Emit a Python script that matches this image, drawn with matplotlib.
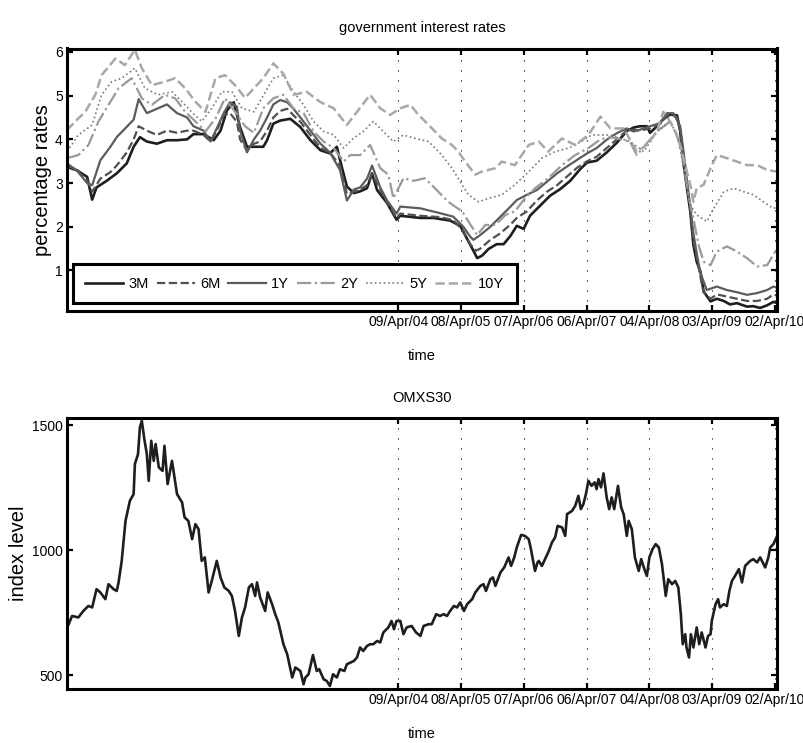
import datetime as dt
import matplotlib
matplotlib.use("Agg")
import matplotlib.pyplot as plt
import matplotlib.dates as mdates

plt.rcParams['font.family'] = ['Liberation Sans', 'DejaVu Sans']

# ---- data (decimal years) ----
r3m_t = [1999.00, 1999.16, 1999.32, 1999.40, 1999.47, 1999.63, 1999.79, 1999.95, 2000.06, 2000.16,
         2000.27, 2000.43, 2000.59, 2000.75, 2000.91, 2001.01, 2001.17, 2001.33, 2001.44, 2001.54,
         2001.65, 2001.75, 2001.86, 2001.97, 2002.12, 2002.18, 2002.28, 2002.39, 2002.55, 2002.71,
         2002.87, 2003.03, 2003.18, 2003.29, 2003.34, 2003.45, 2003.56, 2003.66, 2003.77, 2003.85,
         2003.93, 2004.09, 2004.24, 2004.30, 2004.62, 2004.83, 2005.09, 2005.25, 2005.36, 2005.46,
         2005.52, 2005.60, 2005.70, 2005.83, 2005.94, 2006.05, 2006.15, 2006.26, 2006.36, 2006.52,
         2006.68, 2006.84, 2007.00, 2007.16, 2007.27, 2007.42, 2007.58, 2007.74, 2007.90, 2008.01,
         2008.11, 2008.22, 2008.27, 2008.38, 2008.48, 2008.59, 2008.70, 2008.75, 2008.80, 2008.85,
         2008.91, 2008.96, 2009.01, 2009.07, 2009.12, 2009.23, 2009.33, 2009.44, 2009.54, 2009.65,
         2009.81, 2009.91, 2010.02, 2010.13, 2010.23, 2010.29]
r3m = [3.37, 3.29, 3.14, 2.62, 2.90, 3.05, 3.22, 3.45, 3.83, 4.05,
       3.95, 3.90, 3.98, 3.98, 4.00, 4.12, 4.12, 3.98, 4.20, 4.66,
       4.85, 4.28, 3.83, 3.83, 3.83, 3.98, 4.36, 4.43, 4.47, 4.28,
       3.98, 3.75, 3.68, 3.83, 3.53, 2.92, 2.77, 2.81, 2.88, 3.22,
       2.84, 2.54, 2.16, 2.25, 2.20, 2.20, 2.14, 2.02, 1.72, 1.45,
       1.28, 1.34, 1.49, 1.60, 1.60, 1.79, 2.02, 1.95, 2.25, 2.48,
       2.71, 2.86, 3.05, 3.32, 3.47, 3.51, 3.70, 3.92, 4.19, 4.27,
       4.30, 4.30, 4.15, 4.30, 4.46, 4.57, 4.55, 4.18, 3.49, 2.96,
       2.35, 1.58, 1.20, 0.97, 0.52, 0.29, 0.35, 0.30, 0.22, 0.25,
       0.17, 0.18, 0.14, 0.20, 0.28, 0.25]

r6m_t = [1999.00, 1999.16, 1999.32, 1999.40, 1999.53, 1999.69, 1999.79, 1999.95, 2000.06, 2000.14,
         2000.27, 2000.43, 2000.59, 2000.75, 2000.91, 2001.01, 2001.17, 2001.28, 2001.38, 2001.49,
         2001.59, 2001.70, 2001.75, 2001.86, 2001.97, 2002.07, 2002.18, 2002.28, 2002.39, 2002.50,
         2002.60, 2002.71, 2002.87, 2003.03, 2003.18, 2003.34, 2003.45, 2003.56, 2003.66, 2003.77,
         2003.85, 2003.98, 2004.09, 2004.24, 2004.30, 2004.62, 2004.93, 2005.14, 2005.30, 2005.41,
         2005.50, 2005.57, 2005.73, 2005.89, 2006.05, 2006.15, 2006.31, 2006.47, 2006.63, 2006.79,
         2006.95, 2007.11, 2007.27, 2007.42, 2007.58, 2007.74, 2007.90, 2008.01, 2008.11, 2008.27,
         2008.43, 2008.54, 2008.64, 2008.70, 2008.75, 2008.80, 2008.85, 2008.91, 2008.96, 2009.01,
         2009.07, 2009.12, 2009.23, 2009.33, 2009.49, 2009.65, 2009.81, 2009.97, 2010.13, 2010.23,
         2010.29]
r6m = [3.40, 3.30, 3.05, 2.80, 3.10, 3.25, 3.40, 3.70, 4.00, 4.30,
       4.20, 4.10, 4.20, 4.15, 4.20, 4.20, 4.10, 3.95, 4.20, 4.55,
       4.60, 4.40, 4.00, 3.75, 3.90, 3.95, 4.20, 4.50, 4.65, 4.70,
       4.55, 4.40, 4.10, 3.80, 3.70, 3.40, 2.75, 2.80, 2.85, 2.95,
       3.20, 2.85, 2.55, 2.20, 2.30, 2.25, 2.22, 2.15, 1.90, 1.60,
       1.45, 1.50, 1.70, 1.85, 2.05, 2.20, 2.35, 2.60, 2.80, 2.95,
       3.15, 3.35, 3.50, 3.60, 3.80, 4.00, 4.20, 4.22, 4.20, 4.25,
       4.35, 4.55, 4.55, 4.50, 4.20, 3.60, 3.05, 2.40, 1.70, 1.30,
       0.85, 0.50, 0.35, 0.45, 0.40, 0.35, 0.30, 0.30, 0.35, 0.45,
       0.42]

r1y_t = [1999.00, 1999.16, 1999.32, 1999.40, 1999.53, 1999.69, 1999.79, 2000.06, 2000.14, 2000.27,
         2000.43, 2000.59, 2000.75, 2000.91, 2001.01, 2001.17, 2001.28, 2001.38, 2001.49, 2001.59,
         2001.70, 2001.75, 2001.86, 2001.97, 2002.07, 2002.18, 2002.28, 2002.39, 2002.50, 2002.60,
         2002.71, 2002.87, 2003.03, 2003.18, 2003.34, 2003.45, 2003.56, 2003.66, 2003.77, 2003.85,
         2003.98, 2004.09, 2004.24, 2004.30, 2004.62, 2004.93, 2005.14, 2005.30, 2005.41, 2005.46,
         2005.57, 2005.73, 2005.89, 2006.05, 2006.15, 2006.31, 2006.47, 2006.63, 2006.79, 2006.95,
         2007.11, 2007.27, 2007.42, 2007.58, 2007.74, 2007.90, 2008.01, 2008.11, 2008.27, 2008.43,
         2008.54, 2008.64, 2008.75, 2008.80, 2008.85, 2008.91, 2008.96, 2009.01, 2009.07, 2009.17,
         2009.33, 2009.49, 2009.65, 2009.81, 2009.97, 2010.13, 2010.23, 2010.29]
r1y = [3.45, 3.28, 3.00, 2.95, 3.52, 3.83, 4.05, 4.45, 4.92, 4.60,
       4.70, 4.80, 4.60, 4.50, 4.30, 4.20, 3.95, 4.25, 4.60, 4.85,
       4.75, 4.20, 3.70, 4.00, 4.20, 4.50, 4.80, 4.90, 4.85, 4.70,
       4.50, 4.20, 3.90, 3.70, 3.30, 2.60, 2.85, 2.90, 3.10, 3.40,
       2.90, 2.60, 2.30, 2.46, 2.42, 2.31, 2.23, 2.00, 1.77, 1.70,
       1.81, 2.00, 2.23, 2.46, 2.61, 2.73, 2.84, 3.03, 3.22, 3.38,
       3.53, 3.68, 3.80, 3.99, 4.14, 4.25, 4.18, 4.22, 4.30, 4.37,
       4.60, 4.60, 4.30, 3.76, 3.15, 2.46, 1.85, 1.39, 0.94, 0.55,
       0.63, 0.55, 0.50, 0.44, 0.48, 0.55, 0.63, 0.60]

r2y_t = [1999.00, 1999.18, 1999.34, 1999.50, 1999.66, 1999.82, 2000.03, 2000.19, 2000.35, 2000.56,
         2000.72, 2000.88, 2001.04, 2001.20, 2001.36, 2001.51, 2001.67, 2001.83, 2001.97, 2002.12,
         2002.28, 2002.44, 2002.60, 2002.76, 2002.92, 2003.08, 2003.24, 2003.40, 2003.50, 2003.66,
         2003.82, 2003.98, 2004.11, 2004.19, 2004.35, 2004.51, 2004.69, 2004.85, 2005.06, 2005.28,
         2005.38, 2005.52, 2005.65, 2005.81, 2005.97, 2006.12, 2006.28, 2006.44, 2006.65, 2006.87,
         2007.08, 2007.29, 2007.48, 2007.64, 2007.95, 2008.06, 2008.38, 2008.59, 2008.70, 2008.80,
         2008.88, 2008.96, 2009.04, 2009.12, 2009.23, 2009.33, 2009.49, 2009.65, 2009.81, 2009.97,
         2010.13, 2010.26, 2010.29]
r2y = [3.57, 3.64, 3.87, 4.41, 4.79, 5.17, 5.40, 4.94, 4.79, 5.02,
       4.94, 4.63, 4.41, 4.18, 4.48, 4.94, 4.63, 4.30, 4.15, 4.71,
       4.94, 5.02, 4.71, 4.60, 4.18, 3.95, 3.80, 3.49, 3.64, 3.64,
       3.87, 3.34, 3.19, 2.65, 3.11, 3.05, 3.11, 2.88, 2.57, 2.35,
       2.12, 1.81, 2.04, 2.04, 2.27, 2.35, 2.65, 2.88, 3.11, 3.41,
       3.64, 3.80, 4.00, 4.05, 3.95, 3.64, 4.18, 4.41, 4.10, 3.49,
       2.73, 2.19, 1.58, 1.20, 1.12, 1.43, 1.55, 1.43, 1.28, 1.09,
       1.12, 1.43, 1.40]

r5y_t = [1999.00, 1999.18, 1999.40, 1999.55, 1999.71, 1999.87, 2000.08, 2000.24, 2000.45, 2000.67,
         2000.83, 2000.98, 2001.14, 2001.30, 2001.46, 2001.62, 2001.78, 2001.97, 2002.28, 2002.44,
         2002.60, 2002.76, 2002.92, 2003.08, 2003.24, 2003.40, 2003.55, 2003.71, 2003.87, 2004.03,
         2004.19, 2004.35, 2004.54, 2004.75, 2004.96, 2005.12, 2005.28, 2005.38, 2005.54, 2005.70,
         2005.91, 2006.12, 2006.34, 2006.55, 2006.76, 2006.97, 2007.18, 2007.34, 2007.64, 2007.95,
         2008.17, 2008.38, 2008.59, 2008.72, 2008.83, 2008.91, 2009.01, 2009.17, 2009.28, 2009.44,
         2009.60, 2009.76, 2009.91, 2010.07, 2010.23, 2010.29]
r5y = [3.72, 4.10, 4.33, 5.02, 5.32, 5.40, 5.63, 5.17, 5.02, 5.09,
       4.86, 4.63, 4.41, 4.71, 5.09, 5.09, 4.71, 4.63, 5.40, 5.47,
       5.09, 4.79, 4.41, 4.18, 4.10, 3.80, 4.02, 4.18, 4.41, 4.18,
       3.95, 4.10, 4.02, 3.95, 3.64, 3.34, 2.96, 2.73, 2.57, 2.65,
       2.73, 2.96, 3.26, 3.57, 3.72, 3.80, 3.95, 4.10, 4.10, 3.95,
       3.72, 4.18, 4.41, 4.02, 3.11, 2.50, 2.27, 2.12, 2.42, 2.80,
       2.88, 2.80, 2.73, 2.57, 2.42, 2.45]

r10y_t = [1999.00, 1999.13, 1999.29, 1999.45, 1999.55, 1999.77, 1999.92, 2000.08, 2000.19, 2000.35,
          2000.56, 2000.72, 2000.88, 2001.04, 2001.20, 2001.36, 2001.51, 2001.67, 2001.83, 2002.12,
          2002.28, 2002.44, 2002.60, 2002.81, 2003.02, 2003.24, 2003.45, 2003.61, 2003.82, 2003.98,
          2004.14, 2004.30, 2004.46, 2004.59, 2004.75, 2004.96, 2005.12, 2005.22, 2005.33, 2005.49,
          2005.59, 2005.81, 2005.91, 2006.12, 2006.34, 2006.50, 2006.65, 2006.87, 2007.08, 2007.29,
          2007.48, 2007.64, 2007.85, 2008.06, 2008.22, 2008.38, 2008.48, 2008.59, 2008.67, 2008.75,
          2008.83, 2008.91, 2008.96, 2009.01, 2009.12, 2009.23, 2009.33, 2009.49, 2009.65, 2009.81,
          2009.97, 2010.13, 2010.29]
r10y = [4.21, 4.41, 4.63, 5.02, 5.47, 5.85, 5.70, 6.05, 5.63, 5.24,
        5.32, 5.40, 5.17, 4.86, 4.63, 5.40, 5.47, 5.24, 4.95, 5.40,
        5.74, 5.50, 5.02, 5.09, 4.86, 4.71, 4.33, 4.63, 5.02, 4.71,
        4.56, 4.71, 4.79, 4.56, 4.33, 4.02, 3.87, 3.72, 3.49, 3.19,
        3.26, 3.34, 3.49, 3.41, 3.87, 3.95, 3.72, 4.02, 3.87, 4.10,
        4.52, 4.25, 4.25, 3.72, 3.87, 4.18, 4.63, 4.41, 4.18, 3.87,
        3.41, 2.96, 2.57, 2.88, 2.96, 3.34, 3.64, 3.57, 3.49, 3.41,
        3.41, 3.30, 3.26]

omx_t = [1999.00, 1999.02, 1999.08, 1999.18, 1999.26, 1999.34, 1999.40, 1999.47, 1999.53, 1999.61,
         1999.66, 1999.74, 1999.79, 1999.82, 1999.87, 1999.93, 2000.00, 2000.06, 2000.08, 2000.13,
         2000.16, 2000.19, 2000.23, 2000.27, 2000.30, 2000.34, 2000.38, 2000.41, 2000.46, 2000.52,
         2000.55, 2000.60, 2000.67, 2000.75, 2000.83, 2000.87, 2000.93, 2000.99, 2001.04, 2001.09,
         2001.14, 2001.19, 2001.25, 2001.30, 2001.38, 2001.44, 2001.50, 2001.57, 2001.62, 2001.67,
         2001.73, 2001.78, 2001.83, 2001.89, 2001.94, 2001.99, 2002.02, 2002.07, 2002.15, 2002.19,
         2002.26, 2002.31, 2002.36, 2002.44, 2002.50, 2002.58, 2002.63, 2002.71, 2002.76, 2002.79,
         2002.84, 2002.91, 2002.97, 2003.01, 2003.08, 2003.13, 2003.18, 2003.23, 2003.29, 2003.34,
         2003.41, 2003.45, 2003.56, 2003.61, 2003.66, 2003.71, 2003.77, 2003.82, 2003.87, 2003.93,
         2003.98, 2004.03, 2004.11, 2004.16, 2004.20, 2004.24, 2004.30, 2004.35, 2004.40, 2004.48,
         2004.55, 2004.62, 2004.67, 2004.75, 2004.80, 2004.87, 2004.93, 2004.99, 2005.04, 2005.09,
         2005.15, 2005.20, 2005.25, 2005.31, 2005.36, 2005.44, 2005.49, 2005.57, 2005.62, 2005.66,
         2005.73, 2005.77, 2005.81, 2005.89, 2005.95, 2006.02, 2006.06, 2006.11, 2006.15, 2006.22,
         2006.28, 2006.34, 2006.37, 2006.41, 2006.44, 2006.48, 2006.50, 2006.55, 2006.60, 2006.66,
         2006.71, 2006.76, 2006.80, 2006.87, 2006.92, 2006.95, 2007.03, 2007.08, 2007.13, 2007.17,
         2007.21, 2007.25, 2007.29, 2007.34, 2007.39, 2007.42, 2007.45, 2007.49, 2007.53, 2007.58,
         2007.62, 2007.66, 2007.70, 2007.76, 2007.81, 2007.85, 2007.90, 2007.93, 2007.98, 2008.03,
         2008.09, 2008.13, 2008.18, 2008.22, 2008.26, 2008.31, 2008.36, 2008.41, 2008.46, 2008.52,
         2008.56, 2008.62, 2008.67, 2008.72, 2008.76, 2008.79, 2008.83, 2008.85, 2008.89, 2008.92,
         2008.96, 2009.01, 2009.05, 2009.09, 2009.15, 2009.19, 2009.23, 2009.25, 2009.31, 2009.35,
         2009.38, 2009.44, 2009.49, 2009.53, 2009.57, 2009.62, 2009.68, 2009.73, 2009.78, 2009.86,
         2009.91, 2009.97, 2010.02, 2010.10, 2010.15, 2010.18, 2010.23, 2010.29]
omx = [712, 700, 737, 731, 757, 777, 771, 844, 831, 804,
       864, 844, 837, 871, 957, 1117, 1197, 1224, 1344, 1384,
       1491, 1517, 1444, 1384, 1277, 1437, 1357, 1424, 1331, 1317,
       1417, 1264, 1357, 1224, 1191, 1131, 1117, 1044, 1104, 1084,
       957, 971, 831, 877, 957, 891, 851, 837, 817, 757,
       657, 731, 771, 851, 864, 817, 871, 811, 757, 831,
       784, 744, 711, 624, 584, 491, 531, 517, 464, 491,
       504, 581, 517, 524, 484, 477, 457, 504, 491, 524,
       517, 544, 557, 571, 611, 597, 617, 624, 624, 637,
       631, 671, 691, 717, 684, 717, 717, 664, 691, 697,
       671, 657, 697, 704, 704, 744, 737, 744, 737, 757,
       777, 771, 791, 757, 784, 804, 831, 857, 864, 837,
       884, 891, 857, 911, 931, 971, 937, 971, 1011, 1061,
       1057, 1044, 1011, 957, 917, 951, 957, 937, 964, 997,
       1031, 1051, 1097, 1091, 1057, 1144, 1157, 1177, 1217, 1164,
       1184, 1224, 1277, 1257, 1271, 1244, 1284, 1251, 1307, 1211,
       1164, 1211, 1164, 1257, 1171, 1144, 1057, 1117, 1084, 971,
       917, 964, 924, 897, 971, 1004, 1024, 1011, 944, 817,
       884, 864, 877, 851, 744, 624, 664, 611, 571, 664,
       611, 691, 624, 671, 611, 657, 664, 717, 784, 804,
       771, 784, 777, 837, 877, 897, 924, 871, 937, 957,
       964, 951, 971, 931, 971, 1011, 1024, 1057]

tick_dates = ['2004-04-09', '2005-04-08', '2006-04-07', '2007-04-06',
              '2008-04-04', '2009-04-03', '2010-04-02']


def to_dates(years):
    out = []
    for y in years:
        y0 = int(y)
        out.append(dt.datetime(y0, 1, 1) + dt.timedelta(days=(y - y0) * 365.25))
    return out


def style_axes(ax, ylims):
    ax.set_xlim(dt.datetime(1999, 1, 1), dt.datetime(2010, 4, 16))
    ax.set_ylim(*ylims)
    ticks = [dt.datetime.strptime(s, '%Y-%m-%d') for s in tick_dates]
    ax.set_xticks(ticks)
    ax.xaxis.set_major_formatter(mdates.DateFormatter('%d/%b/%y'))
    ax.tick_params(direction='in', length=4, width=1.6, top=True, right=True,
                   labelsize=10, pad=3)
    ax.grid(axis='x', color='k', linestyle=(0, (1, 8)), linewidth=0.8)
    for sp in ax.spines.values():
        sp.set_linewidth(2.2)
    ax.set_xlabel('time', fontsize=10.5, labelpad=14)


fig = plt.figure(figsize=(8.04, 7.43), dpi=100)
ax1 = fig.add_axes([67 / 804, 1 - 311 / 743, 710 / 804, 262.5 / 743])
ax2 = fig.add_axes([67 / 804, 1 - 689 / 743, 710 / 804, 270.7 / 743])

series = [
    (r3m_t, r3m, '3M', '#1e1e1e', '-', 1.9),
    (r6m_t, r6m, '6M', '#505050', '--', 1.6),
    (r1y_t, r1y, '1Y', '#5c5c5c', '-', 1.6),
    (r2y_t, r2y, '2Y', '#9a9a9a', '-.', 1.6),
    (r5y_t, r5y, '5Y', '#7a7a7a', ':', 1.2),
    (r10y_t, r10y, '10Y', '#a8a8a8', '--', 1.8),
]
for t, v, lab, col, ls, lw in series:
    ax1.plot(to_dates(t), v, color=col, linestyle=ls, linewidth=lw, label=lab)

style_axes(ax1, (0.07, 6.08))
ax1.set_yticks([1, 2, 3, 4, 5, 6])
ax1.set_ylabel('percentage rates', fontsize=14.5, labelpad=2)
ax1.set_title('government interest rates', fontsize=10.5, pad=12)
leg = ax1.legend(ncol=6, loc='lower left', bbox_to_anchor=(0.0085, 0.03), borderaxespad=0,
                 fontsize=10.5, handlelength=2.6, handletextpad=0.35, columnspacing=0.55,
                 borderpad=0.85, fancybox=False, framealpha=1)
leg.get_frame().set_edgecolor('k')
leg.get_frame().set_linewidth(2.2)

ax2.plot(to_dates(omx_t), omx, color='#1e1e1e', linewidth=1.9)
style_axes(ax2, (445, 1527))
ax2.set_yticks([500, 1000, 1500])
ax2.set_ylabel('index level', fontsize=14.5, labelpad=3)
ax2.set_title('OMXS30', fontsize=10.5, pad=12)

fig.savefig('out.png', dpi=100)
